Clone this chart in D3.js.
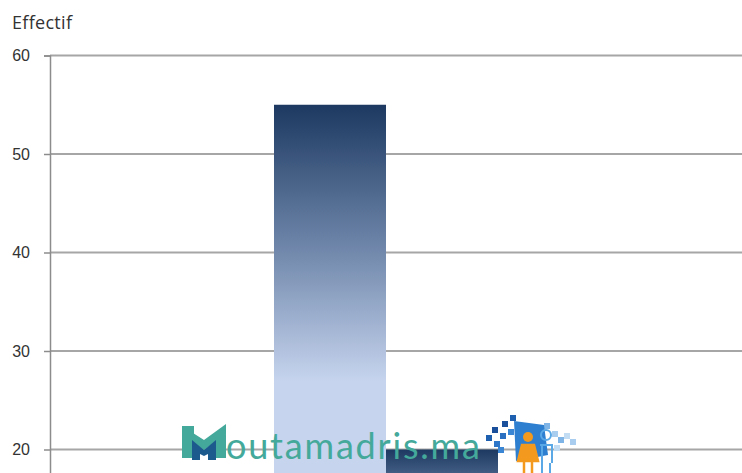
<!DOCTYPE html>
<html>
<head>
<meta charset="utf-8">
<script src="https://cdn.jsdelivr.net/npm/d3@7"></script>
<style>
  body { margin: 0; background: #fff; }
  svg { display: block; font-family: "Open Sans", "DejaVu Sans", sans-serif; }
</style>
</head>
<body>
<div id="chart"></div>
<script>
// Chart data (only the upper part of the chart is visible)
const categories = ["c1", "c2", "c3", "c4", "c5", "c6"];
const values = [null, null, 55, 20, null, null];
const yTicks = [20, 30, 40, 50, 60];
const yTitle = "Effectif";

const width = 742, height = 473;
const margin = { left: 50, top: 55 };

const svg = d3.select("#chart")
    .append("svg")
    .attr("width", width)
    .attr("height", height);

// Bar fill: dark navy at the top fading to pale blue
const defs = svg.append("defs");
const grad = defs.append("linearGradient")
    .attr("id", "barGrad")
    .attr("x1", 0).attr("y1", 0).attr("x2", 0).attr("y2", 1);
grad.append("stop").attr("offset", "0%").attr("stop-color", "#1d3961");
grad.append("stop").attr("offset", "25%").attr("stop-color", "#6a82a6");
grad.append("stop").attr("offset", "51%").attr("stop-color", "#c6d4ee");
grad.append("stop").attr("offset", "100%").attr("stop-color", "#c6d4ee");

// Scales - plot extends below the visible window
const yScale = d3.scaleLinear()
    .domain([0, 60])
    .range([646.5, margin.top + 0.5]);

const xScale = d3.scaleBand()
    .domain(categories)
    .range([margin.left, margin.left + 112 * categories.length])
    .padding(0);

// Gridlines
svg.append("g")
    .selectAll("line")
    .data(yTicks)
    .join("line")
    .attr("x1", margin.left)
    .attr("x2", width)
    .attr("y1", d => yScale(d))
    .attr("y2", d => yScale(d))
    .attr("stroke", "#a6a6a6")
    .attr("stroke-width", 1.8);

// Bars
svg.append("g")
    .selectAll("rect")
    .data(categories.map((c, i) => ({ cat: c, value: values[i] })).filter(d => d.value != null))
    .join("rect")
    .attr("x", d => xScale(d.cat))
    .attr("y", d => yScale(d.value))
    .attr("width", xScale.bandwidth())
    .attr("height", d => yScale(0) - yScale(d.value))
    .attr("fill", "url(#barGrad)");

// Y axis
const leftAxis = d3.axisLeft(yScale)
    .tickValues(yTicks)
    .tickSize(6)
    .tickPadding(14);
const yAxis = svg.append("g")
    .attr("transform", `translate(${margin.left},0)`)
    .call(leftAxis);
yAxis.select(".domain").attr("stroke", "#8c8c8c").attr("stroke-width", 1.5);
yAxis.selectAll(".tick line").attr("stroke", "#8c8c8c").attr("stroke-width", 1.5);
yAxis.selectAll(".tick text")
    .attr("fill", "#333")
    .style("font-size", "16px");

// Axis title
svg.append("text")
    .attr("x", 12)
    .attr("y", 29)
    .attr("fill", "#333")
    .style("font-size", "18px")
    .style("letter-spacing", "0.3px")
    .text(yTitle);

// Watermark logo
const logo = svg.append("g").attr("transform", "translate(182,422)");
logo.append("path")
    .attr("d", "M0,4 L12,4 L12,36 L0,36 Z M0,4 L22,18 L44,2 L44,12 L22,28 L0,14 Z M32,14 L44,8 L44,36 L32,36 Z")
    .attr("fill", "#44a99a");
logo.append("path")
    .attr("d", "M10,18 L22,28 L34,18 L34,38 L26,38 L26,32 L22,34 L18,32 L18,38 L10,38 Z")
    .attr("fill", "#1c5a8e");
logo.append("text")
    .attr("x", 44)
    .attr("y", 37)
    .attr("fill", "#44a99a")
    .style("font-family", "Lato, 'Open Sans', sans-serif")
    .style("font-size", "36px")
    .style("letter-spacing", "1.8px")
    .text("outamadris.ma");

const icon = svg.append("g").attr("transform", "translate(484,415)");
const squares = [
    [2, 20, "#1f5fb0"], [10, 26, "#2e77c8"], [8, 12, "#1a4f9c"], [16, 18, "#2a6fc0"],
    [18, 6, "#1a4f9c"], [24, 14, "#3a86d4"], [26, 0, "#1f5fb0"], [14, 32, "#3a86d4"],
    [60, 8, "#7fb5e6"], [68, 16, "#a8cdef"], [74, 22, "#7fb5e6"], [80, 18, "#c2dcf4"],
    [86, 24, "#a8cdef"], [70, 30, "#c2dcf4"]
];
icon.selectAll("rect.sq")
    .data(squares)
    .join("rect")
    .attr("class", "sq")
    .attr("x", d => d[0])
    .attr("y", d => d[1])
    .attr("width", 6)
    .attr("height", 6)
    .attr("fill", d => d[2]);
icon.append("path")
    .attr("d", "M30,6 L60,10 L64,40 L32,46 Z")
    .attr("fill", "#2f7fd0");
icon.append("circle").attr("cx", 44).attr("cy", 22).attr("r", 5).attr("fill", "#f39a1e");
icon.append("path").attr("d", "M38,30 L50,30 L54,46 L34,46 Z M40,46 L40,58 M48,46 L48,58")
    .attr("fill", "#f39a1e").attr("stroke", "#f39a1e").attr("stroke-width", 2.5);
icon.append("circle").attr("cx", 62).attr("cy", 20).attr("r", 5).attr("fill", "none")
    .attr("stroke", "#5aa9e6").attr("stroke-width", 2);
icon.append("path").attr("d", "M56,30 L68,30 L68,48 M58,30 L58,58 M66,48 L66,58")
    .attr("fill", "none").attr("stroke", "#5aa9e6").attr("stroke-width", 2);
</script>
</body>
</html>
